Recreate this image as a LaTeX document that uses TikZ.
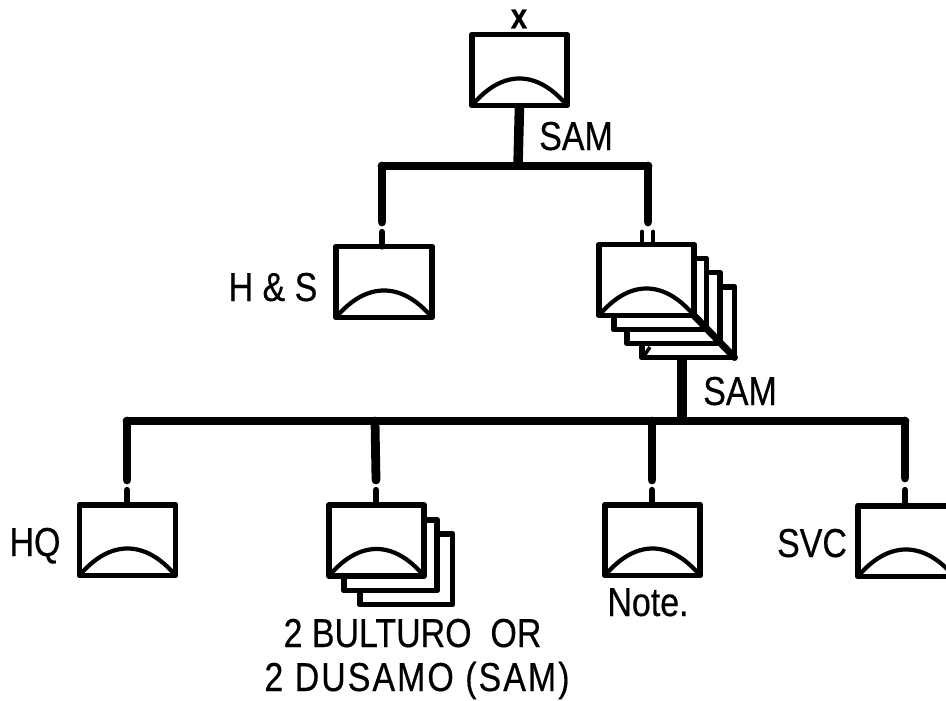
\documentclass[tikz,border=0pt]{standalone}
\usepackage{fontspec}
\setmainfont[FakeStretch=0.84,FakeBold=0.4]{Liberation Sans}
\tikzset{
  x=0.02cm,y=-0.02cm,
  tube/.style={draw=black,fill=white,line width=3.4pt,minimum width=1.92cm,minimum height=1.42cm,inner sep=0pt,outer sep=0pt,line join=round},
  sheet/.style={tube,minimum width=1.86cm},
  front/.style={tube,minimum width=1.90cm},
  dome/.style={line width=2.4pt,black},
  bus/.style={line width=5pt,line cap=round},
  trunk/.style={line width=5.4pt},
  lead/.style={line width=5pt,line cap=round},
  stub/.style={line width=3.6pt,line cap=round},
  pair/.style={line width=2.8pt,line cap=round},
  lab/.style={font=\fontsize{23}{26}\selectfont,inner sep=0pt,anchor=base},
}
\newcommand{\domeon}[1]{\draw[dome] (#1.south west) .. controls +(30,-36) and +(-30,-36) .. (#1.south east);}
\begin{document}
\begin{tikzpicture}
\useasboundingbox (0,0) rectangle (946,700);
\clip (0,0) rectangle (946,700);
% top
\node[front] (top) at (519.5,70) {}; \domeon{top}
\node[font=\fontsize{20}{24}\bfseries\selectfont,inner sep=0pt] (xm) at (519,19) {x};
\coordinate (b1) at (518,166);
\coordinate (b1l) at (382,166);
\coordinate (b1r) at (648,166);
\draw[trunk] (top.south) -- (b1);
\draw[bus] (b1l) -- (b1r);
\node[lab] (sam1) at (576,150) {SAM};
% H&S
\node[tube] (hs) at (384,282) {}; \domeon{hs}
\coordinate (hsgap) at (382,222);
\coordinate (hsstub) at (382,232);
\draw[lead] (b1l) -- (hsgap);
\draw[stub] (hsstub) -- (hs.north -| hsstub);
\node[lab] (hslab) at (273,301) {H \& S};
% battalion stack
\node[sheet] (s4) at (688,322) {};
\node[sheet] (s3) at (673.5,308) {};
\node[sheet] (s2) at (660,294) {};
\node[front] (s1) at (646.5,280) {}; \domeon{s1}
\coordinate (s4c) at (s4.south east);
\draw[line width=4pt,line cap=round] (s1.south east) -- (s4c);
\draw[line width=2pt] (642,359) -- (650,347);
\coordinate (s1gap) at (648,222);
\coordinate (sl) at (642,232);
\coordinate (sr) at (653,232);
\draw[lead] (b1r) -- (s1gap);
\draw[pair] (sl) -- (sl |- s1.north);
\draw[pair] (sr) -- (sr |- s1.north);
% lower bus
\coordinate (b2) at (682,421);
\coordinate (b2a) at (127,421);
\coordinate (b2b) at (375,421);
\coordinate (b2c) at (652,421);
\coordinate (b2d) at (905,421);
\draw[bus] (b2a) -- (b2d);
\draw[trunk] (s4.south -| b2) -- (b2);
\node[lab] (sam2) at (740,405) {SAM};
% lower row
\node[tube] (hq) at (127.5,540) {}; \domeon{hq}
\node[sheet] (c3) at (406,569) {};
\node[sheet] (c2) at (390.5,555) {};
\node[front] (c1) at (376.5,540.5) {}; \domeon{c1}
\node[front] (nt) at (652.5,540) {}; \domeon{nt}
\node[tube] (svc) at (906,541) {}; \domeon{svc}
\coordinate (g1) at (127,480); \coordinate (u1) at (127,490);
\coordinate (g2) at (376,480); \coordinate (u2) at (376,490);
\coordinate (g3) at (652,480); \coordinate (u3) at (652,490);
\coordinate (g4) at (905,478); \coordinate (u4) at (905,490);
\draw[lead] (b2a) -- (g1); \draw[stub] (u1) -- (u1 |- hq.north);
\draw[lead] (b2b) -- (g2); \draw[stub] (u2) -- (u2 |- c1.north);
\draw[lead] (b2c) -- (g3); \draw[stub] (u3) -- (u3 |- nt.north);
\draw[lead] (b2d) -- (g4); \draw[stub] (u4) -- (u4 |- svc.north);
\node[lab] (hqlab) at (35,556) {HQ};
\node[lab] (svclab) at (812,557) {SVC};
\node[lab] (ntlab) at (648,616) {Note.};
\node[lab] (l1) at (412.5,647) {2 BULTURO\ \ OR};
\node[lab] (l2) at (417,691) {\addfontfeature{LetterSpace=5}2 DUSAMO (SAM)};
\end{tikzpicture}
\end{document}
